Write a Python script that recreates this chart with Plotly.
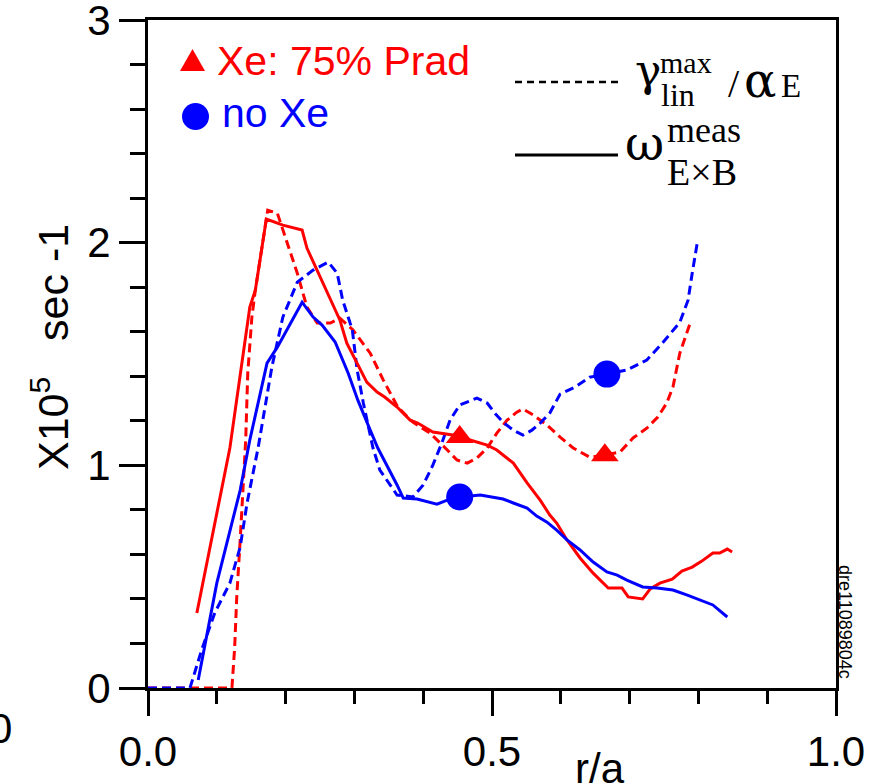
import plotly.graph_objects as go

# ---------------- data ----------------
# Xe: 75% Prad, measured omega_ExB (red solid)
xe_meas_r = [0.071, 0.119, 0.148, 0.156, 0.172, 0.196, 0.224, 0.231, 0.279, 0.289, 0.318, 0.333,
             0.344, 0.362, 0.381, 0.392, 0.414, 0.443, 0.468, 0.493, 0.507, 0.531, 0.551, 0.570,
             0.584, 0.594, 0.609, 0.628, 0.647, 0.660, 0.669, 0.689, 0.698, 0.719, 0.730, 0.744,
             0.762, 0.776, 0.791, 0.805, 0.821, 0.831, 0.842, 0.849]
xe_meas_v = [0.337, 1.078, 1.711, 1.787, 2.106, 2.079, 2.057, 1.976, 1.652, 1.549, 1.374, 1.329,
             1.307, 1.262, 1.203, 1.190, 1.150, 1.136, 1.114, 1.091, 1.069, 1.010, 0.921, 0.844,
             0.777, 0.741, 0.665, 0.584, 0.516, 0.476, 0.449, 0.449, 0.409, 0.400, 0.445, 0.471,
             0.489, 0.525, 0.543, 0.570, 0.606, 0.606, 0.624, 0.611]

# Xe: 75% Prad, gamma_lin^max / alpha_E (red dashed)
xe_gam_r = [0.0, 0.122, 0.126, 0.129, 0.134, 0.138, 0.142, 0.145, 0.151, 0.156, 0.174, 0.188,
            0.202, 0.217, 0.231, 0.246, 0.265, 0.279, 0.298, 0.323, 0.342, 0.363, 0.385, 0.410,
            0.435, 0.449, 0.464, 0.478, 0.493, 0.507, 0.522, 0.536, 0.545, 0.560, 0.580, 0.599,
            0.618, 0.642, 0.664, 0.686, 0.705, 0.725, 0.741, 0.754, 0.763, 0.773, 0.788]
xe_gam_v = [0.0, 0.0, 0.184, 0.409, 0.665, 0.889, 1.114, 1.414, 1.666, 1.787, 2.146, 2.133,
            1.998, 1.863, 1.711, 1.639, 1.639, 1.661, 1.608, 1.504, 1.383, 1.262, 1.194, 1.145,
            1.069, 1.024, 1.010, 1.033, 1.078, 1.145, 1.203, 1.239, 1.253, 1.226, 1.181, 1.127,
            1.078, 1.037, 1.046, 1.060, 1.123, 1.167, 1.217, 1.280, 1.352, 1.504, 1.639]

# no Xe, measured omega_ExB (blue solid)
noxe_meas_r = [0.073, 0.100, 0.134, 0.148, 0.173, 0.188, 0.224, 0.240, 0.253, 0.272, 0.291, 0.305,
               0.323, 0.334, 0.362, 0.371, 0.391, 0.420, 0.435, 0.453, 0.483, 0.516, 0.531, 0.551,
               0.565, 0.580, 0.594, 0.609, 0.628, 0.647, 0.667, 0.682, 0.696, 0.719, 0.740, 0.763,
               0.783, 0.802, 0.821, 0.842]
noxe_meas_v = [0.036, 0.471, 0.889, 1.114, 1.459, 1.531, 1.733, 1.666, 1.630, 1.554, 1.414, 1.293,
               1.158, 1.078, 0.912, 0.853, 0.849, 0.826, 0.844, 0.858, 0.867, 0.849, 0.831, 0.808,
               0.772, 0.745, 0.709, 0.665, 0.620, 0.566, 0.521, 0.507, 0.485, 0.454, 0.449, 0.440,
               0.418, 0.395, 0.373, 0.319]

# no Xe, gamma_lin^max / alpha_E (blue dashed)
noxe_gam_r = [0.0, 0.061, 0.078, 0.097, 0.119, 0.134, 0.144, 0.160, 0.180, 0.196, 0.217, 0.240,
              0.262, 0.275, 0.283, 0.297, 0.304, 0.313, 0.327, 0.337, 0.362, 0.385, 0.400, 0.414,
              0.427, 0.439, 0.453, 0.478, 0.493, 0.504, 0.516, 0.531, 0.545, 0.558, 0.570, 0.584,
              0.599, 0.621, 0.642, 0.667, 0.696, 0.725, 0.749, 0.773, 0.785, 0.791, 0.799]
noxe_gam_v = [0.0, 0.0, 0.171, 0.337, 0.471, 0.633, 0.831, 1.078, 1.441, 1.666, 1.823, 1.877,
              1.913, 1.863, 1.742, 1.608, 1.428, 1.280, 1.078, 0.979, 0.867, 0.858, 0.912, 1.001,
              1.100, 1.203, 1.271, 1.302, 1.280, 1.235, 1.194, 1.158, 1.136, 1.158, 1.190, 1.235,
              1.320, 1.352, 1.396, 1.410, 1.428, 1.473, 1.554, 1.643, 1.742, 1.863, 2.012]

# highlighted points
tri_r = [0.453, 0.664]
tri_v = [1.127, 1.046]
circ_r = [0.453, 0.667]
circ_v = [0.858, 1.410]

x_tickvals = [0.0, 0.5, 1.0]
x_ticktext = ["0.0", "0.5", "1.0"]
y_tickvals = [0, 1, 2, 3]
y_ticktext = ["0", "1", "2", "3"]

RED = "#ff0000"
BLUE = "#0000ff"
SANS = "Liberation Sans, Arial, sans-serif"
SERIF = "Liberation Serif, Times New Roman, serif"
GREEK = "DejaVu Serif, serif"

# ---------------- layout geometry (pixels) ----------------
W, H = 877, 784
L, R, T, B = 148, 836, 20, 688


def px(x):
    return (x - L) / (R - L)


def py(y):
    return (B - y) / (B - T)


fig = go.Figure()
DASH = "9px,5px"
fig.add_trace(go.Scatter(x=xe_gam_r, y=xe_gam_v, mode="lines",
                         line=dict(color=RED, width=3, dash=DASH), showlegend=False))
fig.add_trace(go.Scatter(x=noxe_gam_r, y=noxe_gam_v, mode="lines",
                         line=dict(color=BLUE, width=3, dash=DASH), showlegend=False))
fig.add_trace(go.Scatter(x=xe_meas_r, y=xe_meas_v, mode="lines",
                         line=dict(color=RED, width=3), showlegend=False))
fig.add_trace(go.Scatter(x=noxe_meas_r, y=noxe_meas_v, mode="lines",
                         line=dict(color=BLUE, width=3), showlegend=False))
fig.add_trace(go.Scatter(x=tri_r, y=tri_v, mode="markers",
                         marker=dict(symbol="triangle-up", size=24, color=RED, line=dict(width=0)),
                         showlegend=False))
fig.add_trace(go.Scatter(x=circ_r, y=circ_v, mode="markers",
                         marker=dict(symbol="circle", size=27, color=BLUE, line=dict(width=0)),
                         showlegend=False))

annotations = []


def ann(text, x, y, size, family=SANS, color="black", xanchor="left", yanchor="middle", angle=0):
    annotations.append(dict(text=text, x=px(x), y=py(y), xref="paper", yref="paper",
                            showarrow=False, xanchor=xanchor, yanchor=yanchor,
                            textangle=angle, borderpad=0,
                            font=dict(family=family, size=size, color=color)))


# left legend texts
ann("Xe: 75% Prad", 216, 61, 41, color=RED)
ann("no Xe", 221, 113, 41, color=BLUE)

# right legend (serif math-like labels)
ann("\u03b3", 634, 86 - 0.35 * 44, 44, family=GREEK)
ann("max", 659, 73 - 0.34 * 30, 30, family=SERIF)
ann("lin", 660, 106 - 0.34 * 32, 32, family=SERIF)
ann("/", 727, 97 - 0.34 * 40, 40, family=SERIF)
ann("\u03b1", 743, 97 - 0.35 * 48, 48, family=GREEK)
ann("E", 780, 97 - 0.34 * 33, 33, family=SERIF)
ann("\u03c9", 624, 160 - 0.35 * 48, 48, family=GREEK)
ann("meas", 666, 142 - 0.34 * 36, 36, family=SERIF)
ann("E\u00d7B", 666, 185 - 0.34 * 38, 38, family=SERIF)

# axis titles and extra texts
ann("X10<sup>5</sup>\u00a0\u00a0\u00a0sec -1", 50, 347, 43, xanchor="center", angle=-90)
ann("r/a", 600, 768, 42, xanchor="center")
ann("0", 0, 728, 42, xanchor="center")
ann("dre11089804c", 845, 622, 18, xanchor="center", angle=90)

shapes = [
    # legend symbols
    dict(type="path", xref="paper", yref="paper",
         path=f"M {px(180)},{py(71)} L {px(205)},{py(71)} L {px(192.5)},{py(49)} Z",
         fillcolor=RED, line=dict(width=0)),
    dict(type="circle", xref="paper", yref="paper",
         x0=px(182), x1=px(209), y0=py(130), y1=py(103),
         fillcolor=BLUE, line=dict(width=0)),
    # line-style legend
    dict(type="line", xref="paper", yref="paper", x0=px(515), x1=px(618), y0=py(82), y1=py(82),
         line=dict(color="black", width=2.5, dash="7px,5px")),
    dict(type="line", xref="paper", yref="paper", x0=px(515), x1=px(618), y0=py(155), y1=py(155),
         line=dict(color="black", width=3)),
]

fig.update_layout(
    width=W, height=H,
    margin=dict(l=L, r=W - R, t=T, b=H - B, pad=0, autoexpand=False),
    paper_bgcolor="white", plot_bgcolor="white",
    showlegend=False,
    annotations=annotations,
    shapes=shapes,
    xaxis=dict(range=[0, 1], showgrid=False, zeroline=False, automargin=False,
               showline=True, linecolor="black", linewidth=3, mirror=True,
               ticks="outside", ticklen=25, tickwidth=2.5, tickcolor="black",
               tickvals=x_tickvals, ticktext=x_ticktext, ticklabeloverflow="allow",
               tickfont=dict(family=SANS, size=42, color="black"),
               minor=dict(ticks="outside", ticklen=13, tickwidth=2.5, tickcolor="black",
                          dtick=0.1, tick0=0, showgrid=False)),
    yaxis=dict(range=[0, 3.0005], showgrid=False, zeroline=False, automargin=False,
               showline=True, linecolor="black", linewidth=3, mirror=True,
               ticks="outside", ticklen=26, tickwidth=2.5, tickcolor="black",
               tickvals=y_tickvals, ticktext=y_ticktext, ticklabeloverflow="allow",
               tickfont=dict(family=SANS, size=42, color="black"),
               minor=dict(ticks="outside", ticklen=15, tickwidth=2.5, tickcolor="black",
                          dtick=0.2, tick0=0, showgrid=False)),
)

fig.write_html("out.html")
